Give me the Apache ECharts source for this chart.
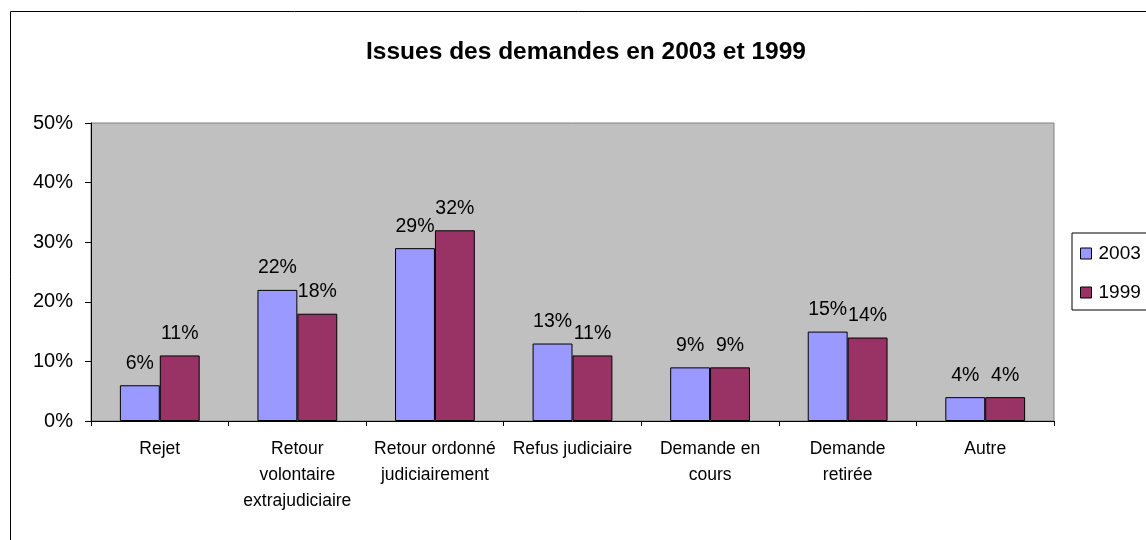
<!DOCTYPE html>
<html>
<head>
<meta charset="utf-8">
<script src="https://cdn.jsdelivr.net/npm/echarts@6/dist/echarts.min.js"></script>
<style>html,body{margin:0;padding:0;background:#fff;}#c{width:1146px;height:540px;}</style>
</head>
<body>
<div id="c"></div>
<script>
const categories = ['Rejet', 'Retour\nvolontaire\nextrajudiciaire', 'Retour ordonné\njudiciairement', 'Refus judiciaire', 'Demande en\ncours', 'Demande\nretirée', 'Autre'];
const values2003 = [6, 22, 29, 13, 9, 15, 4];
const values1999 = [11, 18, 32, 11, 9, 14, 4];
const seriesNames = ['2003', '1999'];
const titleText = 'Issues des demandes en 2003 et 1999';

const FONT = '"Liberation Sans", Arial, sans-serif';
const chart = echarts.init(document.getElementById('c'), null, {renderer: 'canvas'});
const labelStyle = {show: true, position: 'top', distance: 12, formatter: p => p.value + '%', color: '#000', fontSize: 19.5, fontFamily: FONT};
chart.setOption({
  animation: false,
  backgroundColor: '#fff',
  title: {text: titleText, left: 581, top: 35, textAlign: 'center',
    textStyle: {fontFamily: FONT, fontWeight: 'bold', fontSize: 24.5, color: '#000'}},
  legend: {
    data: seriesNames, orient: 'vertical', left: 1072, top: 233,
    itemWidth: 11, itemHeight: 11, itemGap: 20, padding: [11, 30, 8, 8],
    borderColor: '#000', borderWidth: 1, icon: 'rect',
    itemStyle: {borderColor: '#000', borderWidth: 1},
    textStyle: {fontFamily: FONT, fontSize: 19, color: '#000', padding: [0, 0, 0, 2]}
  },
  graphic: [
    {type: 'rect', shape: {x: 10.5, y: 11.5, width: 1200, height: 600}, style: {fill: 'none', stroke: '#000', lineWidth: 1}, silent: true, z: -1}
  ],
  grid: {left: 91, right: 92, top: 123, bottom: 119, show: true, backgroundColor: '#C0C0C0', borderColor: '#808080', borderWidth: 1},
  xAxis: {
    type: 'category', data: categories,
    axisLine: {lineStyle: {color: '#000', width: 1}},
    axisTick: {show: true, length: 5, lineStyle: {color: '#000'}},
    axisLabel: {fontFamily: FONT, fontSize: 17.5, color: '#000', lineHeight: 26, margin: 15, interval: 0}
  },
  yAxis: {
    type: 'value', min: 0, max: 50, interval: 10,
    axisLine: {show: true, lineStyle: {color: '#000'}},
    axisTick: {show: true, length: 6, lineStyle: {color: '#000'}},
    splitLine: {show: false},
    axisLabel: {formatter: '{value}%', fontFamily: FONT, fontSize: 20, color: '#000', margin: 18}
  },
  series: [
    {name: seriesNames[0], type: 'bar', data: values2003, barGap: '0%', barCategoryGap: '42%',
      itemStyle: {color: '#9999FF', borderColor: '#000', borderWidth: 1}, label: labelStyle},
    {name: seriesNames[1], type: 'bar', data: values1999, barGap: '0%', barCategoryGap: '42%',
      itemStyle: {color: '#993366', borderColor: '#000', borderWidth: 1}, label: labelStyle}
  ]
});
</script>
</body>
</html>
